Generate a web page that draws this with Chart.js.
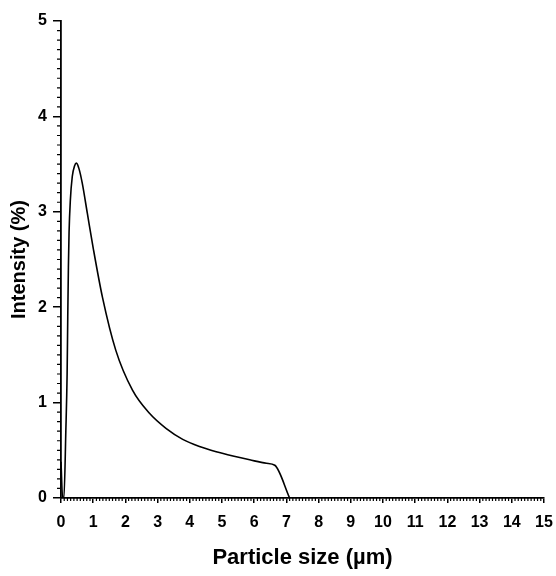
<!DOCTYPE html>
<html>
<head>
<meta charset="utf-8">
<script src="https://cdn.jsdelivr.net/npm/chart.js@4"></script>
<style>
  html, body { margin: 0; padding: 0; background: #fff; }
  #chart { display: block; }
</style>
</head>
<body>
<canvas id="chart" width="556" height="576"></canvas>
<script>
// particle size (um) and intensity (%)
const sizes = [0, 0.05, 0.09, 0.15, 0.19, 0.21, 0.23, 0.25, 0.29, 0.35, 0.42, 0.48, 0.56, 0.66, 0.82, 1.0, 1.29, 1.7, 2.22, 2.74, 3.26, 3.78, 4.3, 4.82, 5.34, 5.86, 6.38, 6.64, 7.1];
const intensity = [0.38, 0, 0, 0.7, 1.3, 1.9, 2.42, 2.78, 3.12, 3.37, 3.48, 3.51, 3.45, 3.3, 2.98, 2.62, 2.1, 1.55, 1.13, 0.89, 0.73, 0.615, 0.54, 0.485, 0.44, 0.40, 0.364, 0.343, 0];

const xTicks = [0, 1, 2, 3, 4, 5, 6, 7, 8, 9, 10, 11, 12, 13, 14, 15];
const yTicks = [0, 1, 2, 3, 4, 5];

const points = sizes.map((s, i) => ({ x: s, y: intensity[i] }));

// small ticks every 0.1 on both axes
const minorTicks = {
    id: 'minorTicks',
    afterDraw(chart) {
        const ctx = chart.ctx;
        const xs = chart.scales.x, ys = chart.scales.y;
        const area = chart.chartArea;
        ctx.save();
        ctx.strokeStyle = '#000';
        ctx.lineWidth = 1.2;
        ctx.beginPath();
        for (let i = 1; i < xTicks[xTicks.length - 1] * 10; i++) {
            if (i % 10 === 0) continue;
            const px = xs.getPixelForValue(i / 10);
            ctx.moveTo(px, area.bottom);
            ctx.lineTo(px, area.bottom + 3);
        }
        for (let i = 1; i < yTicks[yTicks.length - 1] * 10; i++) {
            if (i % 10 === 0) continue;
            const py = ys.getPixelForValue(i / 10);
            ctx.moveTo(area.left - 4, py);
            ctx.lineTo(area.left, py);
        }
        ctx.stroke();
        ctx.restore();
    }
};

new Chart(document.getElementById('chart'), {
    type: 'line',
    data: {
        datasets: [{
            data: points,
            borderColor: '#000',
            borderWidth: 1.6,
            pointRadius: 0,
            cubicInterpolationMode: 'monotone',
            fill: false
        }]
    },
    options: {
        responsive: false,
        animation: false,
        layout: { padding: { top: 21, right: 12, left: 0, bottom: 0 } },
        plugins: { legend: { display: false }, tooltip: { enabled: false } },
        scales: {
            x: {
                type: 'linear',
                min: 0,
                max: 15,
                afterFit: s => { s.height = 78; s.paddingLeft = 0; s.paddingRight = 0; },
                afterBuildTicks: s => { s.ticks = xTicks.map(v => ({ value: v })); },
                ticks: {
                    color: '#000',
                    padding: 10,
                    maxRotation: 0,
                    font: { family: 'Liberation Sans', weight: 'bold', size: 16 }
                },
                grid: { drawOnChartArea: false, drawTicks: true, tickLength: 5, color: '#000', lineWidth: 1.5 },
                border: { display: true, color: '#000', width: 1.8 },
                title: {
                    display: true,
                    text: 'Particle size (µm)',
                    color: '#000',
                    padding: { top: 0, bottom: 5 },
                    font: { family: 'Liberation Sans', weight: 'bold', size: 22 }
                }
            },
            y: {
                min: 0,
                max: 5,
                afterFit: s => { s.width = 61; s.paddingTop = 0; s.paddingBottom = 0; },
                afterBuildTicks: s => { s.ticks = yTicks.map(v => ({ value: v })); },
                ticks: {
                    color: '#000',
                    padding: 6,
                    font: { family: 'Liberation Sans', weight: 'bold', size: 16 }
                },
                grid: { drawOnChartArea: false, drawTicks: true, tickLength: 8, color: '#000', lineWidth: 1.5 },
                border: { display: true, color: '#000', width: 1.8 },
                title: {
                    display: true,
                    text: 'Intensity (%)',
                    color: '#000',
                    padding: { top: 7, bottom: 0 },
                    font: { family: 'Liberation Sans', weight: 'bold', size: 20 }
                }
            }
        }
    },
    plugins: [minorTicks]
});
</script>
</body>
</html>
